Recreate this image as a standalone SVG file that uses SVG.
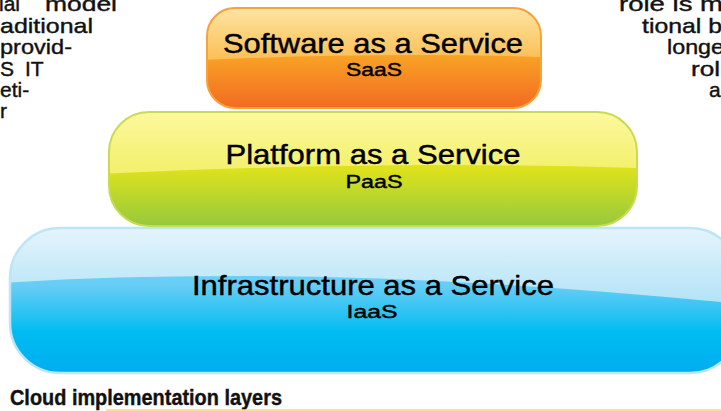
<svg xmlns="http://www.w3.org/2000/svg" width="721" height="411" viewBox="0 0 721 411">
<style>
.body{font-family:"Liberation Sans",Arial,sans-serif;font-size:21px;fill:#111;stroke:#111;stroke-width:0.4}
.title{font-family:"Liberation Sans",Arial,sans-serif;fill:#000;stroke:#000;stroke-width:0.45;text-anchor:middle}
.big{font-size:28px}
.small{font-size:19px}
.cap{font-family:"Liberation Sans Narrow","Liberation Sans",Arial,sans-serif;font-weight:bold;font-size:22px;fill:#111;stroke:#111;stroke-width:0.4}
</style>
<defs>
<linearGradient id="oBase" x1="0" y1="0" x2="0" y2="1">
<stop offset="0" stop-color="#fbb44a"/><stop offset="0.45" stop-color="#f9a526"/><stop offset="1" stop-color="#f26b22"/>
</linearGradient>
<linearGradient id="oHi" x1="0" y1="0" x2="0" y2="1">
<stop offset="0" stop-color="#fde4a2"/><stop offset="1" stop-color="#fbbf55"/>
</linearGradient>
<linearGradient id="gBase" x1="0" y1="0" x2="0" y2="1">
<stop offset="0" stop-color="#e6e72a"/><stop offset="0.5" stop-color="#dde21c"/><stop offset="1" stop-color="#96c93d"/>
</linearGradient>
<linearGradient id="gHi" x1="0" y1="0" x2="0" y2="1">
<stop offset="0" stop-color="#fdf89e"/><stop offset="1" stop-color="#f2f06a"/>
</linearGradient>
<linearGradient id="bBase" x1="0" y1="0" x2="0" y2="1">
<stop offset="0" stop-color="#84d6f6"/><stop offset="0.4" stop-color="#66cdf5"/><stop offset="0.72" stop-color="#00bcf1"/><stop offset="1" stop-color="#00adef"/>
</linearGradient>
<linearGradient id="bHi" x1="0" y1="0" x2="0" y2="1">
<stop offset="0" stop-color="#e4f4fc"/><stop offset="1" stop-color="#b2e3f7"/>
</linearGradient>
<clipPath id="cO"><rect x="207" y="8" width="334" height="100" rx="28"/></clipPath>
<clipPath id="cG"><rect x="109" y="112" width="528" height="114" rx="40"/></clipPath>
<clipPath id="cB"><rect x="10" y="228" width="730" height="145" rx="50"/></clipPath>
</defs>
<rect width="721" height="411" fill="#fff"/>

<g id="text-left">
<text class="body"><tspan x="-1" y="11">ial</tspan><tspan x="45" y="11" textLength="72" lengthAdjust="spacingAndGlyphs">model</tspan></text>
<text class="body" x="0" y="33" textLength="93" lengthAdjust="spacingAndGlyphs">aditional</text>
<text class="body" x="0" y="54" textLength="72" lengthAdjust="spacingAndGlyphs">provid-</text>
<text class="body"><tspan x="0" y="76">S</tspan><tspan x="25" y="76">IT</tspan></text>
<text class="body" x="0" y="97">eti-</text>
<text class="body" x="0" y="118">r</text>
</g>
<g id="text-right">
<text class="body" x="619" y="11" textLength="104" lengthAdjust="spacingAndGlyphs">role is m</text>
<text class="body" x="642" y="33" textLength="80" lengthAdjust="spacingAndGlyphs">tional b</text>
<text class="body" x="667" y="54" textLength="57" lengthAdjust="spacingAndGlyphs">longe</text>
<text class="body" x="691" y="76" textLength="29" lengthAdjust="spacingAndGlyphs">rol</text>
<text class="body" x="709" y="97">a</text>
</g>

<g id="iaas">
<rect x="10" y="228" width="730" height="145" rx="50" fill="url(#bBase)"/>
<path clip-path="url(#cB)" d="M0 228 H740 V304 Q330 262 0 283 Z" fill="url(#bHi)"/>
<rect x="10" y="228" width="730" height="145" rx="50" fill="none" stroke="#bce5f8" stroke-width="2.5"/>
<text class="title big" x="373" y="295" textLength="362" lengthAdjust="spacingAndGlyphs">Infrastructure as a Service</text>
<text class="title small" x="372" y="318" textLength="51" lengthAdjust="spacingAndGlyphs">IaaS</text>
</g>

<g id="paas">
<rect x="109" y="112" width="528" height="114" rx="40" fill="url(#gBase)"/>
<path clip-path="url(#cG)" d="M100 112 H640 V168 Q380 160 100 174 Z" fill="url(#gHi)"/>
<rect x="109" y="112" width="528" height="114" rx="40" fill="none" stroke="#c6dc52" stroke-width="2"/>
<text class="title big" x="373" y="164" textLength="295" lengthAdjust="spacingAndGlyphs">Platform as a Service</text>
<text class="title small" x="374" y="188" textLength="57" lengthAdjust="spacingAndGlyphs">PaaS</text>
</g>

<g id="saas">
<rect x="207" y="8" width="334" height="100" rx="28" fill="url(#oBase)"/>
<path clip-path="url(#cO)" d="M200 8 H545 V57 Q380 52 200 60 Z" fill="url(#oHi)"/>
<rect x="207" y="8" width="334" height="100" rx="28" fill="none" stroke="#f7a23a" stroke-width="2"/>
<text class="title big" x="373" y="53" textLength="300" lengthAdjust="spacingAndGlyphs">Software as a Service</text>
<text class="title small" x="374" y="76" textLength="56" lengthAdjust="spacingAndGlyphs">SaaS</text>
</g>

<g id="connectors"></g>

<g id="caption">
<text class="cap" x="10" y="405" textLength="272" lengthAdjust="spacingAndGlyphs">Cloud implementation layers</text>
<line x1="106" y1="410" x2="721" y2="410" stroke="#fdd47c" stroke-width="1.5"/>
</g>
</svg>
